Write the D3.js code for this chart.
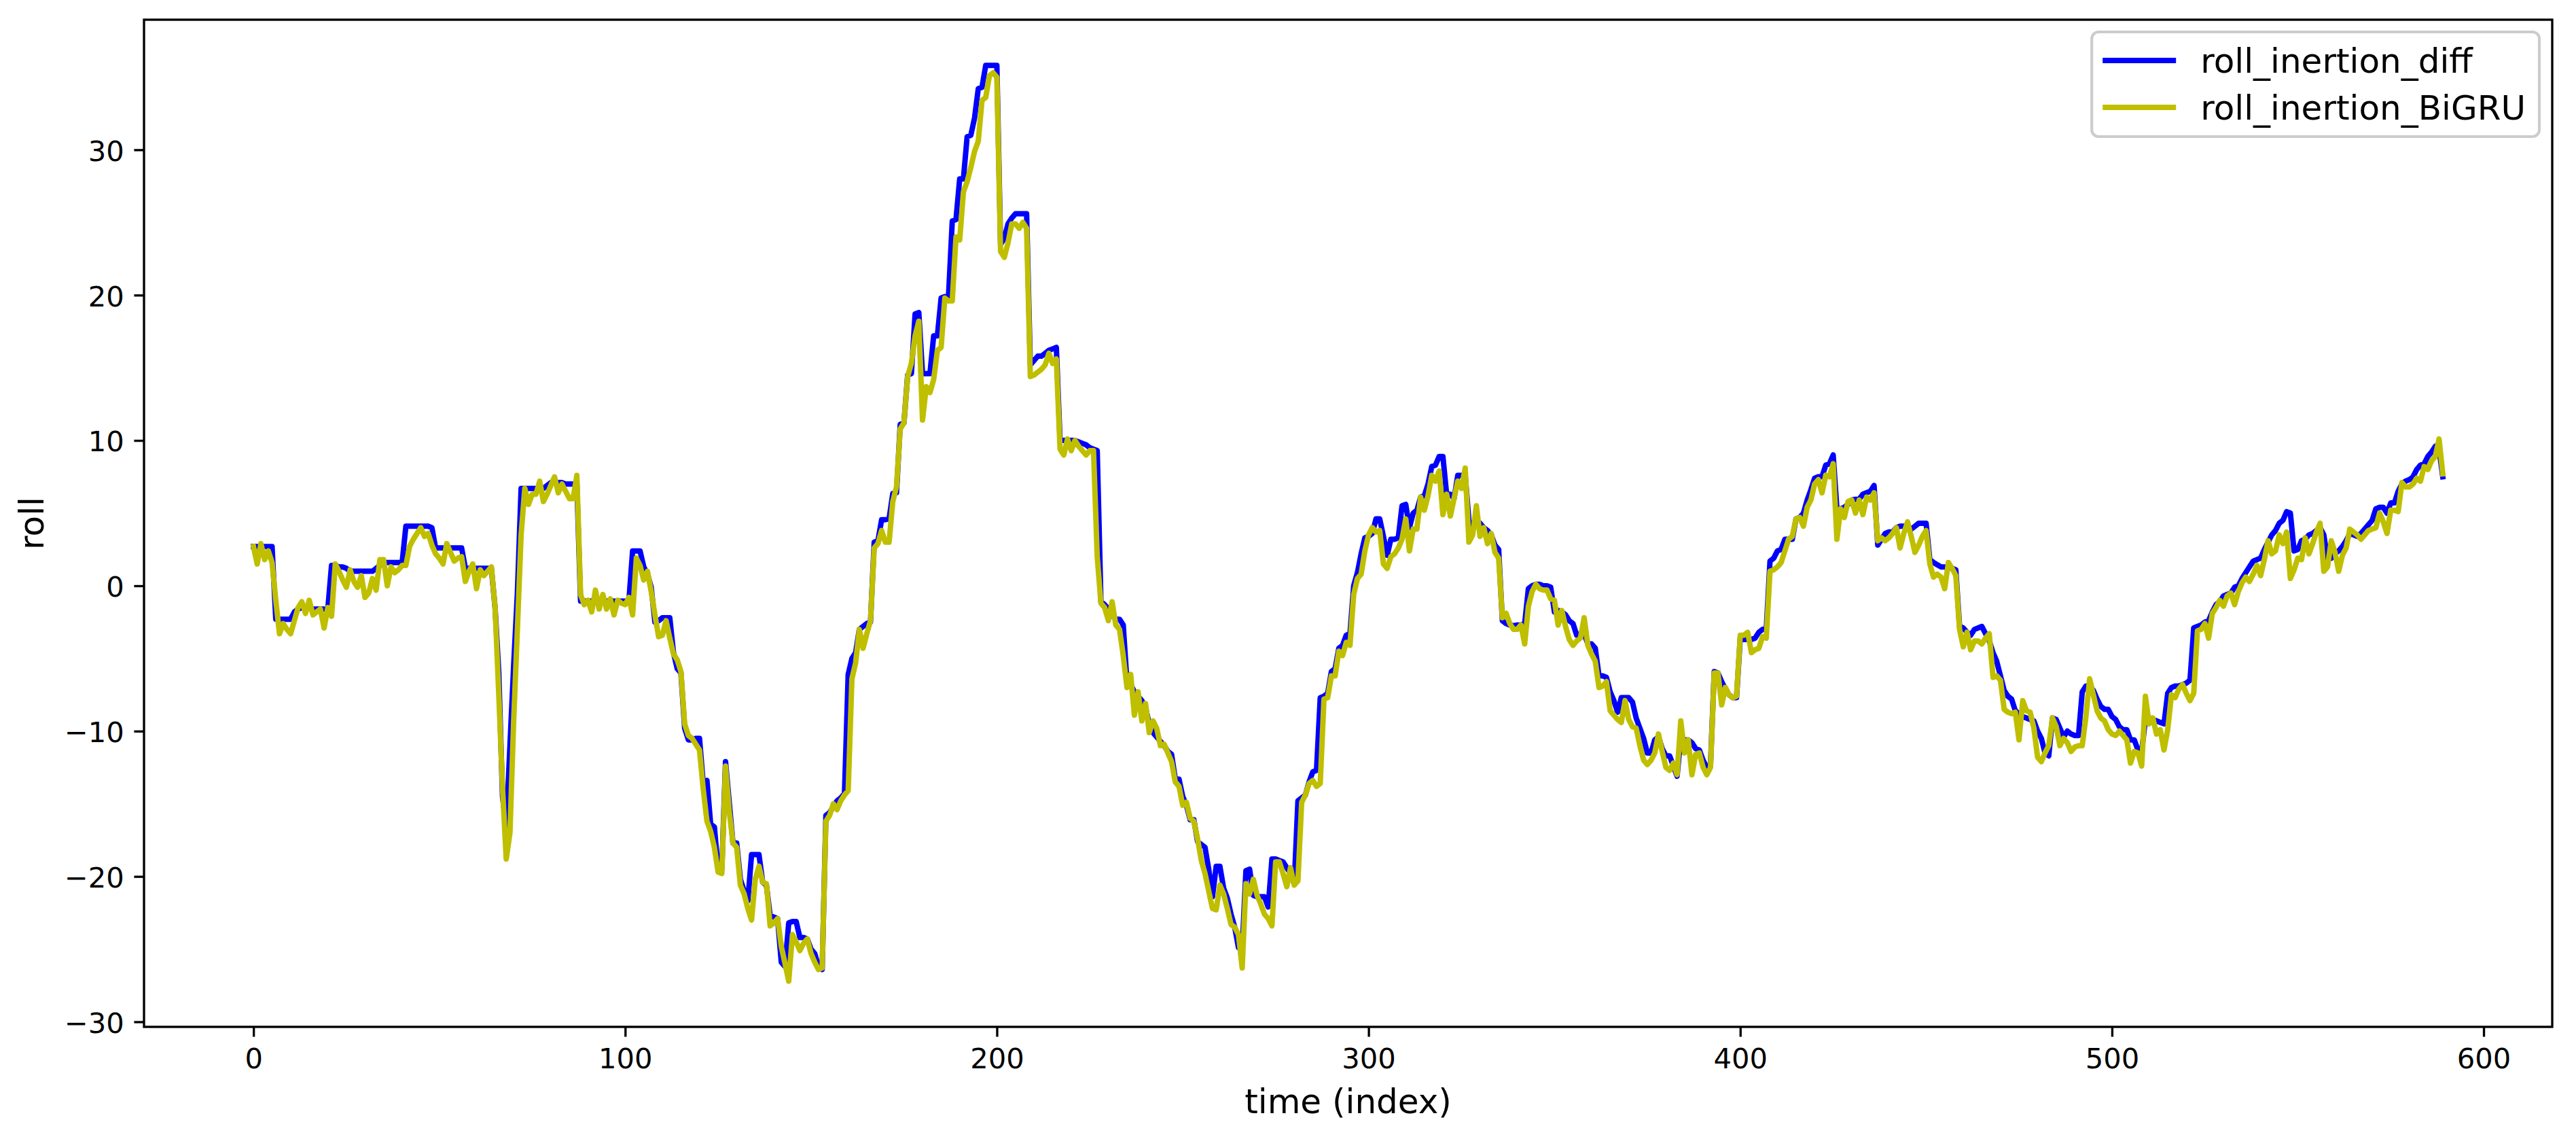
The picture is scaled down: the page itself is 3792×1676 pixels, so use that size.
<!DOCTYPE html>
<html><head><meta charset="utf-8">
<script src="https://cdn.jsdelivr.net/npm/d3@7"></script>
<style>html,body{margin:0;padding:0;background:#fff}svg{display:block}</style>
</head><body>
<svg id="chart" width="3792" height="1676"></svg>
<script>
// ---------------- data ----------------
const rollDiff = [
2.7,2.7,2.7,2.7,2.7,2.7,-2.3,-2.3,-2.3,-2.3,
-2.3,-1.8,-1.6,-1.5,-1.5,-1.5,-1.6,-1.6,-1.6,-1.6,
-1.6,1.4,1.4,1.3,1.3,1.2,1.0,1.0,1.0,1.0,
1.0,1.0,1.0,1.2,1.4,1.6,1.6,1.6,1.6,1.6,
1.6,4.1,4.1,4.1,4.1,4.1,4.1,4.1,4.0,2.6,
2.6,2.6,2.6,2.6,2.6,2.6,2.6,1.2,1.2,1.2,
1.2,1.2,1.2,1.2,1.2,-1.5,-6.0,-14.5,-16.6,-11.0,
-5.5,-0.5,6.7,6.7,6.7,6.7,6.7,6.7,6.7,6.9,
7.1,7.1,7.1,7.1,7.0,7.0,7.0,7.0,-1.05,-1.05,
-1.05,-1.05,-1.05,-1.05,-1.05,-1.05,-1.05,-1.05,-1.05,-1.05,
-1.05,-1.05,2.4,2.4,2.4,1.3,0.8,-0.1,-2.5,-2.4,
-2.2,-2.2,-2.2,-4.6,-5.7,-6.0,-9.8,-10.6,-10.6,-10.5,
-10.5,-13.6,-13.4,-16.4,-16.6,-19.5,-19.5,-12.1,-14.9,-17.7,
-17.7,-20.2,-21.0,-21.7,-18.5,-18.5,-18.5,-20.4,-20.6,-22.7,
-22.8,-22.9,-25.9,-26.2,-23.2,-23.1,-23.1,-24.2,-24.2,-24.3,
-25.0,-25.3,-26.2,-26.4,-15.8,-15.6,-15.2,-14.8,-14.6,-14.3,
-6.1,-5.0,-4.6,-3.0,-2.8,-2.6,-2.5,3.0,3.1,4.55,
4.55,4.6,6.35,6.4,11.1,11.2,14.5,14.6,18.7,18.8,
14.6,14.6,14.6,17.2,17.2,19.8,19.9,19.95,25.1,25.2,
28.0,28.0,30.9,31.0,32.2,34.2,34.3,35.8,35.8,35.8,
35.8,23.5,23.9,24.9,25.3,25.6,25.6,25.6,25.6,15.2,
15.5,15.8,15.8,16.0,16.2,16.3,16.4,10.0,10.0,10.0,
10.0,10.0,9.9,9.8,9.7,9.5,9.4,9.3,-1.1,-1.3,
-1.6,-2.0,-2.3,-2.3,-2.7,-6.6,-6.8,-7.3,-7.6,-7.9,
-8.4,-9.5,-10.1,-10.4,-10.7,-11.0,-11.4,-11.6,-13.3,-13.3,
-14.5,-15.1,-16.1,-16.1,-17.6,-17.8,-18.0,-19.5,-21.4,-19.3,
-19.3,-20.8,-21.5,-22.6,-23.5,-24.9,-25.0,-19.6,-19.5,-21.3,
-21.4,-21.4,-21.4,-22.1,-18.8,-18.8,-18.9,-19.0,-19.4,-19.8,
-20.5,-14.8,-14.6,-14.4,-13.5,-12.8,-12.7,-7.7,-7.6,-7.4,
-5.9,-5.7,-4.3,-4.1,-3.4,-3.3,0.0,0.9,2.2,3.3,
3.4,3.6,4.6,4.6,3.4,2.1,3.2,3.2,3.3,5.5,
5.6,4.0,5.0,5.2,6.1,6.2,7.0,8.2,8.3,8.9,
8.9,6.3,6.3,6.0,7.6,7.6,7.6,4.5,3.8,4.5,
4.3,4.0,3.8,3.5,2.8,2.5,-2.4,-2.6,-2.7,-2.75,
-2.7,-2.7,-2.6,-0.2,0.0,0.1,0.1,0.0,0.0,-0.1,
-1.8,-1.7,-1.8,-2.0,-2.4,-2.6,-3.4,-3.3,-3.3,-4.0,
-4.0,-4.3,-6.2,-6.2,-6.3,-7.3,-7.9,-8.7,-7.7,-7.7,
-7.7,-8.0,-9.1,-9.8,-10.5,-11.5,-11.5,-10.6,-10.4,-11.2,
-11.7,-11.7,-12.4,-13.1,-10.5,-10.6,-10.6,-10.8,-11.2,-11.3,
-12.0,-12.5,-12.3,-5.9,-6.0,-6.6,-7.1,-7.5,-7.7,-7.7,
-3.6,-3.7,-3.7,-3.7,-3.6,-3.2,-3.0,-3.0,1.7,1.9,
2.4,2.5,3.2,3.2,3.2,4.6,4.7,5.0,5.9,6.6,
7.4,7.5,7.5,8.3,8.4,9.0,5.3,5.3,5.4,5.6,
5.9,5.95,5.95,6.3,6.4,6.5,6.9,2.8,3.2,3.6,
3.7,3.7,4.0,4.1,4.1,4.1,3.9,4.1,4.3,4.3,
4.3,1.8,1.6,1.45,1.3,1.3,1.2,1.2,1.1,-2.8,
-2.9,-3.2,-3.4,-3.0,-2.9,-2.8,-3.3,-3.8,-4.6,-5.2,
-6.2,-7.2,-7.6,-7.8,-8.6,-8.8,-9.0,-9.1,-9.2,-9.3,
-10.0,-10.5,-11.5,-11.7,-9.1,-9.2,-9.8,-10.4,-10.0,-10.2,
-10.3,-10.3,-7.3,-6.9,-6.9,-7.2,-7.8,-8.3,-8.5,-8.5,
-9.0,-9.2,-9.7,-9.9,-9.9,-10.6,-10.6,-11.3,-11.4,-9.2,
-9.1,-9.2,-9.3,-9.4,-9.5,-7.4,-7.0,-6.9,-6.9,-6.8,
-6.7,-6.5,-2.9,-2.8,-2.7,-2.5,-2.4,-1.8,-1.3,-1.1,
-0.7,-0.6,-0.5,-0.1,0.0,0.5,0.9,1.3,1.7,1.8,
1.9,2.5,3.0,3.5,3.8,4.3,4.5,5.1,5.0,2.4,
2.5,3.1,3.2,3.5,3.6,3.8,4.0,3.5,1.8,1.9,
2.2,2.4,2.7,3.1,3.6,3.5,3.4,3.6,3.9,4.2,
4.5,5.3,5.4,5.4,5.0,5.7,5.7,6.5,7.0,7.2,
7.3,7.5,8.0,8.3,8.4,8.9,9.2,9.6,9.4,7.5
];
const rollBiGRU = [
2.7,1.5,2.9,1.8,2.4,1.6,-1.0,-3.3,-2.6,-3.0,
-3.3,-2.4,-1.5,-1.1,-1.9,-1.0,-2.0,-1.8,-1.6,-2.9,
-1.5,-2.1,1.5,1.0,0.4,-0.1,1.1,0.3,-0.1,0.7,
-0.8,-0.5,0.5,-0.3,1.8,1.8,0.0,1.3,0.9,1.1,
1.4,1.4,2.7,3.2,3.6,4.0,3.4,3.6,2.8,2.2,
1.9,1.5,2.9,2.3,1.7,1.9,2.0,0.3,1.0,1.5,
-0.2,1.1,0.7,1.0,1.3,-1.5,-7.5,-13.9,-18.8,-17.0,
-9.3,-3.0,3.5,6.7,5.6,6.3,6.3,7.2,5.8,6.3,
6.9,7.5,6.4,7.0,6.5,6.0,6.0,7.6,-0.6,-1.3,
-1.0,-1.8,-0.3,-1.6,-0.6,-1.6,-0.9,-2.0,-1.0,-1.2,
-1.3,-0.8,-2.0,1.9,1.4,0.4,1.0,-0.4,-2.0,-3.5,
-3.4,-2.4,-3.6,-4.7,-5.1,-5.9,-9.5,-10.3,-10.5,-10.9,
-11.3,-14.0,-16.2,-16.9,-18.0,-19.7,-19.8,-12.4,-15.5,-17.7,
-18.0,-20.6,-21.2,-22.2,-23.0,-20.2,-19.3,-20.4,-20.5,-23.4,
-23.2,-22.9,-24.8,-26.0,-27.2,-24.0,-24.5,-25.1,-24.6,-24.3,
-25.3,-25.9,-26.4,-26.3,-16.2,-15.8,-15.0,-15.4,-14.8,-14.4,
-14.1,-6.4,-5.3,-3.0,-4.3,-3.3,-2.4,2.6,2.9,3.8,
3.0,3.0,5.8,6.8,10.8,11.2,14.4,15.3,17.2,18.2,
11.4,13.7,13.3,14.2,16.2,16.4,19.8,19.6,19.6,24.0,
23.8,27.1,27.8,28.8,29.9,30.6,33.4,33.6,35.1,35.3,
35.0,23.0,22.6,23.6,24.9,24.9,24.6,25.0,24.6,14.4,
14.5,14.7,14.9,15.2,16.0,15.3,15.6,9.4,9.0,10.1,
9.3,10.0,9.6,9.3,9.0,9.3,9.3,2.0,-1.2,-1.5,
-2.4,-1.1,-2.7,-3.0,-4.8,-7.0,-6.1,-8.9,-7.3,-9.3,
-8.1,-10.1,-9.3,-9.8,-11.0,-10.9,-11.5,-12.1,-13.5,-13.8,
-15.1,-14.9,-16.0,-16.2,-17.4,-18.9,-19.8,-21.0,-22.2,-22.3,
-20.6,-21.2,-22.2,-23.3,-23.5,-24.0,-26.3,-20.5,-21.2,-20.2,
-21.3,-21.9,-22.6,-22.9,-23.4,-19.0,-19.0,-19.8,-20.7,-19.4,
-20.6,-20.3,-14.9,-14.4,-13.6,-13.4,-13.8,-13.6,-7.8,-7.7,
-6.2,-6.2,-4.5,-4.8,-3.9,-4.1,-0.6,0.5,0.8,2.4,
3.5,4.0,3.7,3.8,1.5,1.2,2.0,2.2,2.6,3.2,
4.6,2.4,3.9,3.9,6.1,5.2,6.2,7.6,7.2,7.9,
4.9,6.3,4.8,6.0,7.2,6.7,8.1,3.0,3.5,5.5,
3.4,4.0,2.9,3.6,2.3,1.9,-2.2,-1.9,-2.6,-3.0,
-3.0,-2.7,-4.0,-1.4,-0.4,0.1,-0.2,-0.3,-0.3,-0.9,
-1.0,-2.7,-1.7,-2.8,-3.7,-4.1,-3.8,-3.6,-2.2,-4.1,
-4.7,-5.2,-7.0,-6.9,-6.6,-8.6,-8.9,-9.2,-9.4,-7.9,
-9.2,-9.7,-9.8,-11.0,-12.0,-12.3,-12.0,-11.5,-10.2,-11.4,
-12.5,-12.7,-12.2,-13.0,-9.3,-11.5,-10.6,-13.0,-11.6,-11.5,
-12.5,-13.0,-12.5,-6.0,-6.0,-8.2,-7.0,-7.5,-7.7,-7.6,
-3.4,-3.4,-3.2,-4.6,-4.4,-4.3,-3.5,-3.6,1.0,1.1,
1.3,1.6,2.4,3.2,3.4,4.6,4.7,4.1,5.4,5.9,
7.0,7.3,6.4,7.6,7.5,8.4,3.2,5.3,4.7,5.8,
5.9,5.0,5.9,4.9,6.1,5.9,6.4,3.1,3.3,3.1,
3.3,3.6,4.0,2.6,3.6,4.4,3.4,2.3,2.8,3.4,
3.8,1.5,0.6,0.8,0.6,-0.2,1.6,1.2,0.7,-3.0,
-4.2,-3.2,-4.4,-3.8,-3.8,-4.0,-3.6,-3.3,-6.3,-6.2,
-6.5,-8.5,-8.7,-8.8,-8.7,-10.6,-7.9,-8.6,-8.7,-9.8,
-11.8,-12.1,-11.5,-11.0,-9.1,-9.7,-11.0,-10.5,-10.8,-11.4,
-11.1,-11.0,-11.0,-9.0,-6.4,-7.5,-8.6,-9.1,-9.3,-9.9,
-10.2,-10.3,-10.0,-10.3,-10.6,-12.2,-11.4,-11.5,-12.4,-7.6,
-9.5,-9.1,-10.2,-9.9,-11.3,-9.9,-7.5,-7.7,-7.1,-6.8,
-7.4,-7.9,-7.4,-3.1,-3.0,-2.6,-3.6,-1.9,-1.5,-1.0,
-1.4,-0.7,-0.5,-1.3,-0.4,0.2,0.6,0.3,0.8,1.4,
0.7,1.8,3.1,2.2,2.4,3.5,2.9,3.7,0.5,1.1,
1.9,1.8,3.3,2.2,2.9,3.7,4.3,1.0,1.3,3.1,
2.3,1.0,2.1,2.6,3.9,3.7,3.5,3.2,3.5,3.8,
3.9,4.0,5.0,4.4,3.6,5.2,5.2,5.1,7.1,6.8,
6.8,7.0,7.4,7.2,8.2,8.0,8.6,8.9,10.1,7.7
];
const seriesNames = ["roll_inertion_diff", "roll_inertion_BiGRU"];
const seriesColors = ["#0000ff", "#bfbf00"];
const xTicks = [0, 100, 200, 300, 400, 500, 600];
const yTicks = [-30, -20, -10, 0, 10, 20, 30];
const xLabelText = "time (index)";
const yLabelText = "roll";

// ---------------- layout ----------------
const PT = 300 / 72;             // figure rendered at 300 dpi
const FS = 10 * PT;              // tick label font size
const AFS = 12 * PT;             // axis label font size
const LFS = 12 * PT;             // legend font size
const LW = 8;                    // plotted line width (px)
const box = {left: 212, right: 3757, top: 29, bottom: 1511};
const FONT = "DejaVu Sans";

const svg = d3.select("#chart");
svg.append("rect").attr("width", 3792).attr("height", 1676).attr("fill", "#fff");

const series = [rollDiff, rollBiGRU];
const idx = rollDiff.map((_, i) => i);
const n = rollDiff.length;

// matplotlib-like 5% autoscale margins
const xMin = 0, xMax = n - 1, xPad = (xMax - xMin) * 0.05;
const allVals = rollDiff.concat(rollBiGRU);
const yMin = d3.min(allVals), yMax = d3.max(allVals), yPad = (yMax - yMin) * 0.05;

const x = d3.scaleLinear().domain([xMin - xPad, xMax + xPad]).range([box.left, box.right]);
const y = d3.scaleLinear().domain([yMin - yPad, yMax + yPad]).range([box.bottom, box.top]);

const plot = svg.append("g");
const clipId = "clipArea";
svg.append("defs").append("clipPath").attr("id", clipId)
  .append("rect").attr("x", box.left).attr("y", box.top)
  .attr("width", box.right - box.left).attr("height", box.bottom - box.top);

const line = d3.line().x((d, i) => x(idx[i])).y(d => y(d));
series.forEach((s, k) => {
  plot.append("path").datum(s)
    .attr("d", line)
    .attr("fill", "none")
    .attr("stroke", seriesColors[k])
    .attr("stroke-width", LW)
    .attr("stroke-linejoin", "round")
    .attr("stroke-linecap", "square")
    .attr("clip-path", `url(#${clipId})`);
});

// axes
const tickLen = 3.5 * PT, tickPad = 3.5 * PT, tickW = 0.8 * PT;
const xAxis = d3.axisBottom(x).tickValues(xTicks).tickSize(tickLen).tickPadding(tickPad).tickFormat(d3.format("d"));
const yAxis = d3.axisLeft(y).tickValues(yTicks).tickSize(tickLen).tickPadding(tickPad).tickFormat(d3.format("d"));

const gx = svg.append("g").attr("transform", `translate(0,${box.bottom})`).call(xAxis);
const gy = svg.append("g").attr("transform", `translate(${box.left},0)`).call(yAxis);
[gx, gy].forEach(g => {
  g.select(".domain").remove();
  g.selectAll(".tick line").attr("stroke", "#000").attr("stroke-width", tickW);
  g.selectAll(".tick text").attr("fill", "#000").attr("font-family", FONT).attr("font-size", FS);
});
gx.selectAll(".tick text").attr("dy", "0.76em");
gy.selectAll(".tick text").attr("dy", "0.38em");

// frame (spines)
svg.append("rect")
  .attr("x", box.left).attr("y", box.top)
  .attr("width", box.right - box.left).attr("height", box.bottom - box.top)
  .attr("fill", "none").attr("stroke", "#000").attr("stroke-width", 0.8 * PT)
  .attr("stroke-linecap", "square");

// axis labels
svg.append("text")
  .attr("x", (box.left + box.right) / 2).attr("y", 1638)
  .attr("text-anchor", "middle")
  .attr("font-family", FONT).attr("font-size", AFS).attr("fill", "#000")
  .text(xLabelText);
svg.append("text")
  .attr("transform", `translate(64,${(box.top + box.bottom) / 2}) rotate(-90)`)
  .attr("text-anchor", "middle")
  .attr("font-family", FONT).attr("font-size", AFS).attr("fill", "#000")
  .text(yLabelText);

// legend
const lg = {right: 3738, top: 47, pad: 0.4 * LFS, handle: 2.0 * LFS, gap: 0.8 * LFS};
const tmp = svg.append("text").attr("font-family", FONT).attr("font-size", LFS);
const textW = d3.max(seriesNames, s => { tmp.text(s); return tmp.node().getComputedTextLength(); });
tmp.remove();
const lgW = lg.pad * 2 + lg.handle + lg.gap + textW;
const lgH = 154;
const lgLeft = lg.right - lgW;
const legend = svg.append("g");
legend.append("rect")
  .attr("x", lgLeft).attr("y", lg.top).attr("width", lgW).attr("height", lgH)
  .attr("rx", 0.2 * LFS).attr("ry", 0.2 * LFS)
  .attr("fill", "#fff").attr("fill-opacity", 0.8)
  .attr("stroke", "#cccccc").attr("stroke-width", 1.0 * PT);
seriesNames.forEach((name, k) => {
  const base = lg.top + 60 + k * 69;
  const hy = base - 18;
  legend.append("line")
    .attr("x1", lgLeft + lg.pad).attr("x2", lgLeft + lg.pad + lg.handle)
    .attr("y1", hy).attr("y2", hy)
    .attr("stroke", seriesColors[k]).attr("stroke-width", LW).attr("stroke-linecap", "square");
  legend.append("text")
    .attr("x", lgLeft + lg.pad + lg.handle + lg.gap).attr("y", base)
    .attr("font-family", FONT).attr("font-size", LFS).attr("fill", "#000")
    .text(name);
});
</script>
</body></html>
